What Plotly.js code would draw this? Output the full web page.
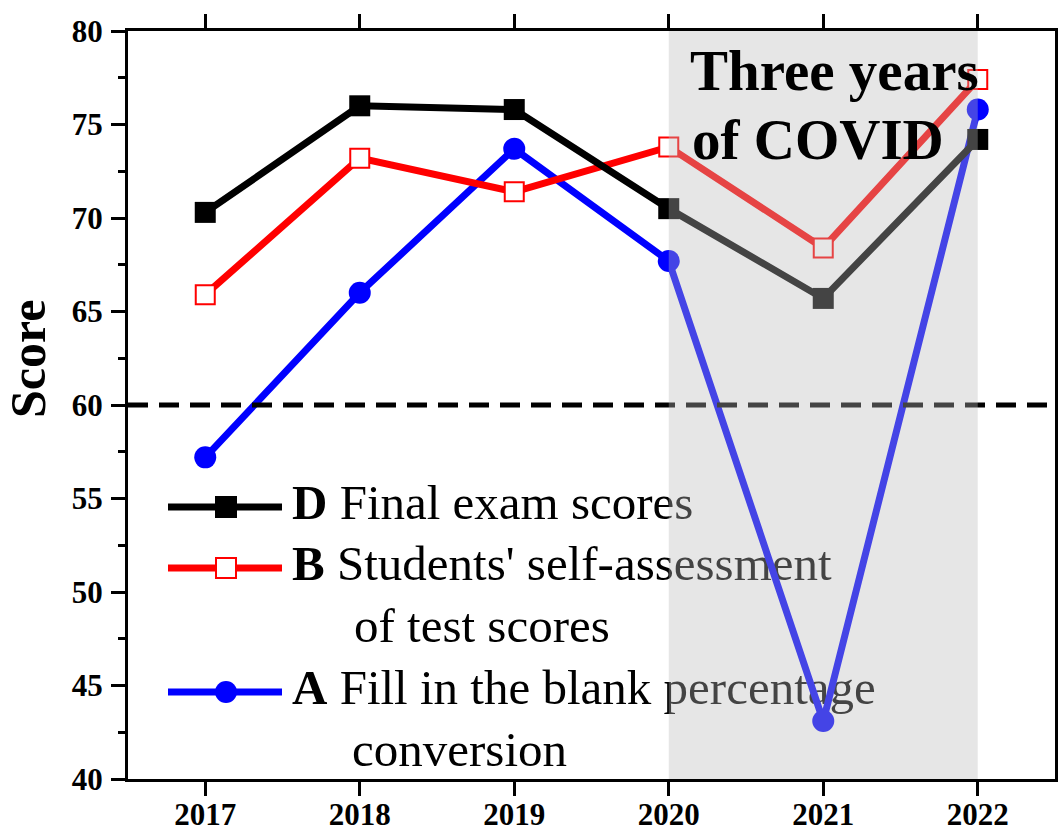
<!DOCTYPE html>
<html>
<head>
<meta charset="utf-8">
<script src="https://cdn.plot.ly/plotly-3.0.1.min.js"></script>
<style>html,body{margin:0;padding:0;background:#fff;}#chart{width:1059px;height:831px;}</style>
</head>
<body>
<div id="chart"></div>
<script>
// ---- data ----
const years = [2017, 2018, 2019, 2020, 2021, 2022];
const finalExam = [70.3, 76.0, 75.8, 70.5, 65.7, 74.2];          // D
const selfAssess = [65.9, 73.2, 71.4, 73.8, 68.4, 77.4];         // B
const fillBlank = [57.2, 66.0, 73.7, 67.7, 43.1, 75.8];          // A
const passLine = 60;
const covidStart = 2020, covidEnd = 2022;
const yTicks = [40, 45, 50, 55, 60, 65, 70, 75, 80];

// legend text lines (bold prefix + text)
const legendLines = [
  '<b>D</b> Final exam scores',
  '<b>B</b> Students\' self-assessment',
  'of test scores',
  '<b>A</b> Fill in the blank percentage',
  'conversion'
];
const covidText = ['Three years', 'of COVID'];

// ---- layout helpers (overlay axis in pixel units) ----
const FONT = 'Liberation Serif, Times New Roman, serif';
const legendRowY = [507, 568, 630, 692, 754];
const legendRowX = [292, 292, 354, 292, 352];
const sampleRows = [
  {y: 507, color: '#000000', sym: 'sq', fill: '#000000'},
  {y: 568, color: '#ff0000', sym: 'sq', fill: '#ffffff'},
  {y: 692, color: '#0000ff', sym: 'ci', fill: '#0000ff'}
];

const traces = [
  {
    x: legendRowX, y: legendRowY, text: legendLines,
    mode: 'text', textposition: 'middle right',
    textfont: {family: FONT, size: 49, color: '#000'},
    xaxis: 'x', yaxis: 'y', hoverinfo: 'skip', showlegend: false
  },
  {
    x: years, y: fillBlank, mode: 'lines+markers', name: 'A',
    line: {color: '#0000ff', width: 7},
    marker: {symbol: 'circle', size: 22, color: '#0000ff'},
    xaxis: 'x2', yaxis: 'y2', showlegend: false
  },
  {
    x: years, y: selfAssess, mode: 'lines+markers', name: 'B',
    line: {color: '#ff0000', width: 7},
    marker: {symbol: 'square', size: 19, color: '#ffffff', line: {color: '#ff0000', width: 2}},
    xaxis: 'x2', yaxis: 'y2', showlegend: false
  },
  {
    x: years, y: finalExam, mode: 'lines+markers', name: 'D',
    line: {color: '#000000', width: 7},
    marker: {symbol: 'square', size: 21, color: '#000000'},
    xaxis: 'x2', yaxis: 'y2', showlegend: false
  }
];

const shapes = [];
// legend samples
sampleRows.forEach(r => {
  shapes.push({type: 'line', xref: 'x', yref: 'y', x0: 168, x1: 282, y0: r.y, y1: r.y,
    line: {color: r.color, width: 7}, layer: 'above'});
  if (r.sym === 'sq') {
    shapes.push({type: 'rect', xref: 'x', yref: 'y', x0: 216, x1: 236, y0: r.y - 10, y1: r.y + 10,
      fillcolor: r.fill, line: {color: r.color, width: 2}, layer: 'above'});
  } else {
    shapes.push({type: 'circle', xref: 'x', yref: 'y', x0: 215, x1: 237, y0: r.y - 11, y1: r.y + 11,
      fillcolor: r.fill, line: {color: r.color, width: 0}, layer: 'above'});
  }
});
// 60 pass line
shapes.push({type: 'line', xref: 'paper', yref: 'y2', x0: 0, x1: 1, y0: passLine, y1: passLine,
  line: {color: '#000', width: 5, dash: '20px,11px'}, layer: 'above'});
// COVID shading (drawn over everything except the heading)
shapes.push({type: 'rect', xref: 'x2', yref: 'paper', x0: covidStart, x1: covidEnd, y0: 0, y1: 1,
  fillcolor: 'rgba(186,186,186,0.365)', line: {width: 0}, layer: 'above'});

const tickFont = {family: FONT, size: 31, color: '#000', weight: 'bold'};

const layout = {
  width: 1059, height: 831,
  margin: {l: 128, r: 4, t: 31, b: 52},
  paper_bgcolor: '#fff', plot_bgcolor: '#fff',
  showlegend: false,
  xaxis: {range: [128, 1055], visible: false, fixedrange: true},
  yaxis: {range: [779, 31], visible: false, fixedrange: true},
  xaxis2: {
    overlaying: 'x', anchor: 'y2', side: 'bottom',
    range: [2016.5, 2022.5], tickvals: years, ticktext: years.map(String),
    showgrid: false, zeroline: false,
    showline: true, linecolor: '#000', linewidth: 3, mirror: 'ticks',
    ticks: 'outside', ticklen: 14, tickwidth: 3, tickcolor: '#000',
    tickfont: tickFont, ticklabelstandoff: -8
  },
  yaxis2: {
    overlaying: 'y', anchor: 'x2', side: 'left',
    range: [40, 80], tickvals: yTicks, ticktext: yTicks.map(String),
    showgrid: false, zeroline: false,
    showline: true, linecolor: '#000', linewidth: 3, mirror: true,
    ticks: 'outside', ticklen: 14, tickwidth: 3, tickcolor: '#000',
    minor: {dtick: 2.5, tick0: 40, ticks: 'outside', ticklen: 7, tickwidth: 3, tickcolor: '#000', showgrid: false},
    tickfont: tickFont, ticklabelstandoff: 2
  },
  yaxis3: {
    overlaying: 'y', anchor: 'x', side: 'right',
    range: [40, 80], tickvals: yTicks, showticklabels: false,
    showgrid: false, zeroline: false, showline: false,
    ticks: 'inside', ticklen: 10, tickwidth: 3, tickcolor: '#000',
    minor: {dtick: 2.5, tick0: 40, ticks: 'inside', ticklen: 10, tickwidth: 3, tickcolor: '#000', showgrid: false}
  },
  shapes: shapes,
  annotations: [
    {text: '<b>' + covidText[0] + '</b>', xref: 'x', yref: 'y', x: 688, y: 70,
     xanchor: 'left', yanchor: 'middle', showarrow: false,
     font: {family: FONT, size: 57, color: '#000'}},
    {text: '<b>' + covidText[1] + '</b>', xref: 'x', yref: 'y', x: 690, y: 139,
     xanchor: 'left', yanchor: 'middle', showarrow: false,
     font: {family: FONT, size: 57, color: '#000'}},
    {text: '<b>Score</b>', xref: 'paper', yref: 'paper', x: -0.1079, y: 0.5615, textangle: -90,
     xanchor: 'center', yanchor: 'middle', showarrow: false,
     font: {family: FONT, size: 50, color: '#000'}}
  ]
};

Plotly.newPlot('chart', traces, layout, {staticPlot: true, displayModeBar: false});
</script>
</body>
</html>
